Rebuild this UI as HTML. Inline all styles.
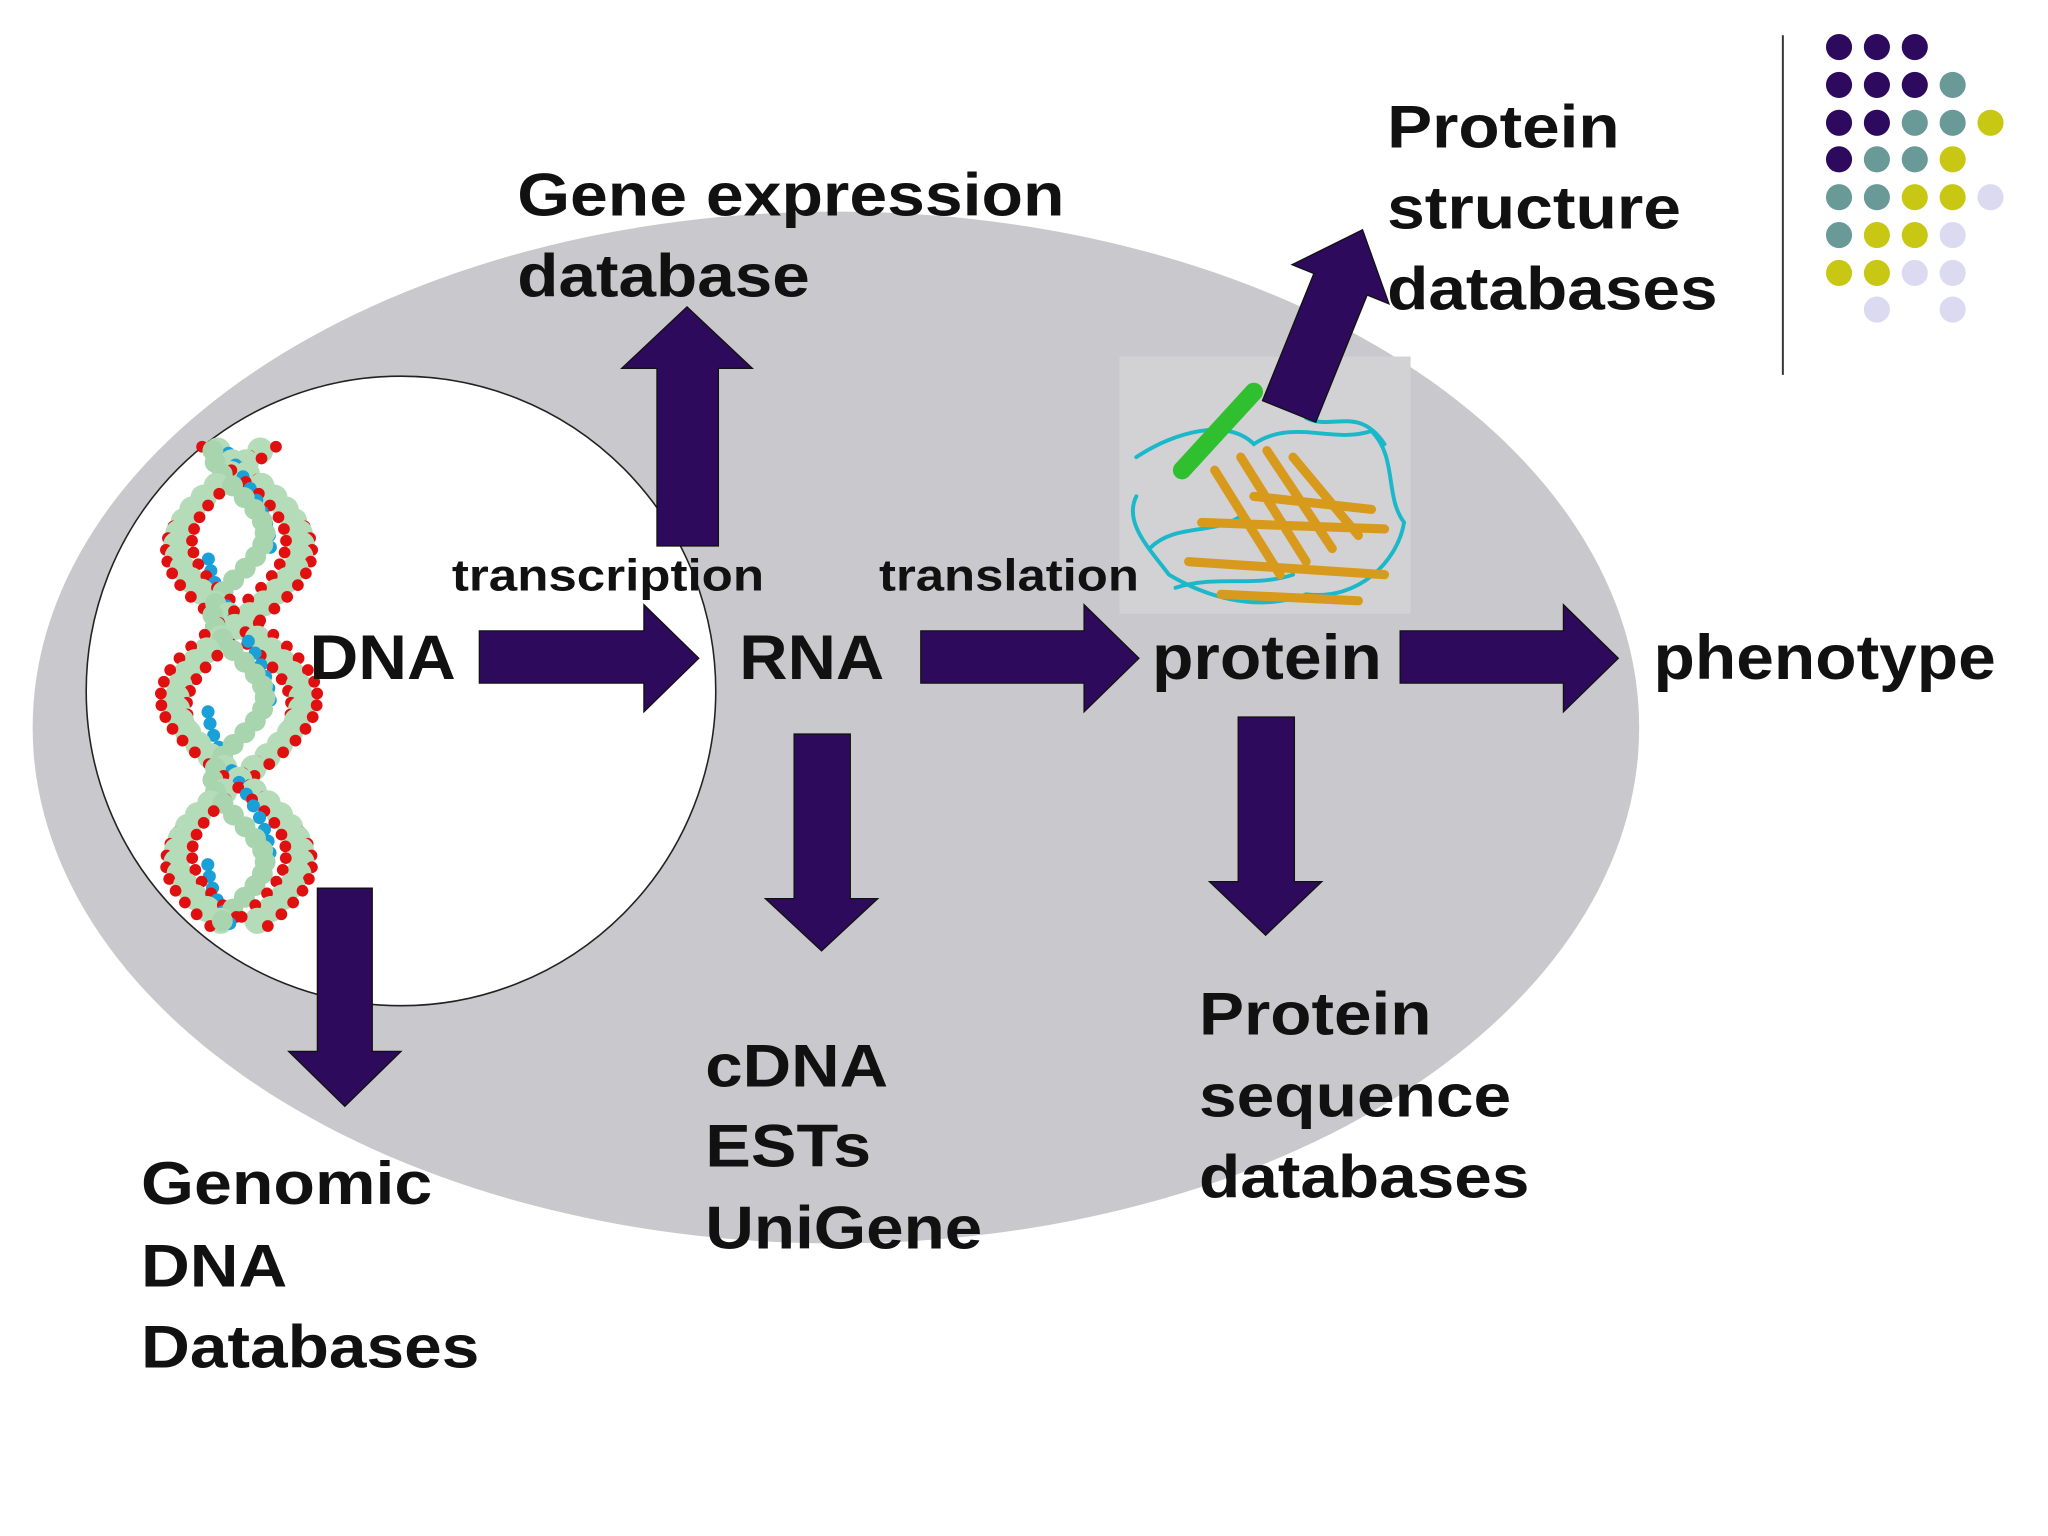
<!DOCTYPE html>
<html><head><meta charset="utf-8"><style>
html,body{margin:0;padding:0;background:#fff}
svg{display:block}
text{font-family:"Liberation Sans",Arial,sans-serif;font-weight:bold;fill:#111}
</style></head><body>
<svg id="s" width="2048" height="1536" viewBox="0 0 1568 1176" xmlns="http://www.w3.org/2000/svg">
<rect width="1568" height="1176" fill="#fff"/>
<ellipse cx="640" cy="557" rx="615" ry="395" fill="#c9c8cc"/>
<circle cx="307" cy="529" r="241" fill="#fff" stroke="#222" stroke-width="1.2"/>
<rect x="857" y="273" width="223" height="197" fill="#d2d1d4"/>
<g id="helix"></g>
<g fill="none" stroke-linecap="round">
<path d="M870 350 C900 330 940 320 960 340 C990 320 1020 340 1050 330 C1070 350 1060 380 1075 400 C1070 430 1040 460 1000 455 C960 470 920 455 895 440 C880 420 860 400 870 380" stroke="#1ab8c8" stroke-width="3"/>
<path d="M880 420 C900 400 930 410 950 395 M1000 320 C1020 330 1040 310 1060 340 M900 450 C930 440 960 450 990 440" stroke="#1ab8c8" stroke-width="3"/>
<path d="M930 360 L980 440 M950 350 L1000 430 M970 345 L1020 420 M990 350 L1040 410 M920 400 L1060 405 M910 430 L1060 440 M935 455 L1040 460 M960 380 L1050 390" stroke="#d89a1c" stroke-width="7"/>
<path d="M905 360 L960 300" stroke="#2fbf2f" stroke-width="14"/>
</g>
<line x1="1365" y1="27" x2="1365" y2="287" stroke="#333" stroke-width="1.5"/>
<g id="dots"></g>
<g fill="#2e0a5c" stroke="#111" stroke-width="1">
<polygon points="367,483 493,483 493,463 535,504 493,545 493,523 367,523"/>
<polygon points="705,483 830,483 830,463 872,504 830,545 830,523 705,523"/>
<polygon points="1072,483 1197,483 1197,463 1239,504 1197,545 1197,523 1072,523"/>
<polygon points="503,418 503,282 476,282 526,235 576,282 550,282 550,418"/>
<polygon points="608,562 651,562 651,688 672,688 629,728 586,688 608,688"/>
<polygon points="948,549 991,549 991,675 1012,675 969,716 926,675 948,675"/>
<polygon points="243,680 285,680 285,805 307,805 264,847 221,805 243,805"/>
<polygon transform="translate(987,315) rotate(22)" points="-22,0 -22,-105 -40,-105 0,-150 40,-105 22,-105 22,0"/>
</g>
<g font-size="46">
<text x="396" y="165" textLength="419" lengthAdjust="spacingAndGlyphs">Gene expression</text><text x="396" y="227" textLength="224" lengthAdjust="spacingAndGlyphs">database</text>
<text x="1062" y="113" textLength="178" lengthAdjust="spacingAndGlyphs">Protein</text><text x="1062" y="175" textLength="225" lengthAdjust="spacingAndGlyphs">structure</text><text x="1062" y="237" textLength="253" lengthAdjust="spacingAndGlyphs">databases</text>
<text x="108" y="922" textLength="223" lengthAdjust="spacingAndGlyphs">Genomic</text><text x="108" y="985" textLength="112" lengthAdjust="spacingAndGlyphs">DNA</text><text x="108" y="1047" textLength="259" lengthAdjust="spacingAndGlyphs">Databases</text>
<text x="540" y="832" textLength="140" lengthAdjust="spacingAndGlyphs">cDNA</text><text x="540" y="893" textLength="127" lengthAdjust="spacingAndGlyphs">ESTs</text><text x="540" y="956" textLength="212" lengthAdjust="spacingAndGlyphs">UniGene</text>
<text x="918" y="792" textLength="178" lengthAdjust="spacingAndGlyphs">Protein</text><text x="918" y="855" textLength="239" lengthAdjust="spacingAndGlyphs">sequence</text><text x="918" y="917" textLength="253" lengthAdjust="spacingAndGlyphs">databases</text>
</g>
<g font-size="48">
<text x="237" y="520" textLength="112" lengthAdjust="spacingAndGlyphs">DNA</text><text x="566" y="520" textLength="111" lengthAdjust="spacingAndGlyphs">RNA</text><text x="882" y="520" textLength="176" lengthAdjust="spacingAndGlyphs">protein</text><text x="1266" y="520" textLength="262" lengthAdjust="spacingAndGlyphs">phenotype</text>
</g>
<g font-size="34">
<text x="346" y="452" textLength="239" lengthAdjust="spacingAndGlyphs">transcription</text><text x="673" y="452" textLength="199" lengthAdjust="spacingAndGlyphs">translation</text>
</g>
</svg>
<script>
var ns="http://www.w3.org/2000/svg";
function c(g,x,y,r,f){var e=document.createElementNS(ns,"circle");e.setAttribute("cx",x);e.setAttribute("cy",y);e.setAttribute("r",r);e.setAttribute("fill",f);g.appendChild(e);}
var d=document.getElementById("dots");
var P="#2d0a5e",T="#6a9a98",Y="#c8c814",L="#dcdaf0";
var rows=[[P,P,P,0,0],[P,P,P,T,0],[P,P,T,T,Y],[P,T,T,Y,0],[T,T,Y,Y,L],[T,Y,Y,L,0],[Y,Y,L,L,0],[0,L,0,L,0]];
var ys=[36,65,94,122,151,180,209,237],xs=[1408,1437,1466,1495,1524];
rows.forEach(function(r,i){r.forEach(function(f,j){if(f)c(d,xs[j],ys[i],10,f);});});
var h=document.getElementById("helix");
for(var y=345;y<=710;y+=9){
 for(var k=0;k<2;k++){
  var ph=y/38+k*Math.PI;
  var x=183+48*Math.sin(ph);
  c(h,x,y,10,"#b5dcb8");
  c(h,x+(k?8:-8),y+4,4.5,"#e01010");
  c(h,x+(k?-12:12),y-3,4.5,"#e01010");
  if(Math.cos(ph)>0)c(h,(x+183)/2,y+2,5,"#1aa0d8");
 }
 c(h,183+20*Math.sin(y/20),y,8,"#a8d4ae");
}
</script>
</body></html>
